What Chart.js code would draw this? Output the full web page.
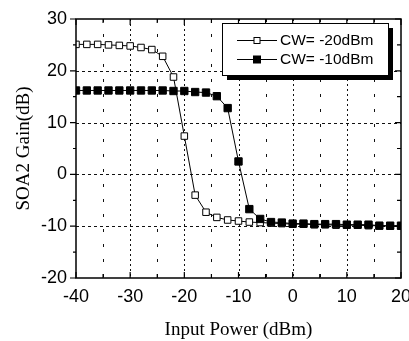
<!DOCTYPE html>
<html>
<head>
<meta charset="utf-8">
<script src="https://cdn.jsdelivr.net/npm/chart.js@4/dist/chart.umd.min.js"></script>
<style>
html,body{margin:0;padding:0;background:#fff;}
#wrap{width:409px;height:341px;position:relative;}
</style>
</head>
<body>
<div id="wrap"><canvas id="c" width="409" height="341"></canvas></div>
<script>
const inputPower = [-40,-38,-36,-34,-32,-30,-28,-26,-24,-22,-20,-18,-16,-14,-12,-10,-8,-6,-4,-2,0,2,4,6,8,10,12,14,16,18,20];
const gainCWm20 = [25.1,25.1,25.1,25.0,24.9,24.8,24.5,24.1,22.8,18.8,7.4,-4.0,-7.3,-8.3,-8.8,-9.0,-9.2,-9.3,-9.4,-9.5,-9.6,-9.6,-9.7,-9.7,-9.8,-9.8,-9.8,-9.9,-9.9,-10.0,-10.0];
const gainCWm10 = [16.2,16.2,16.2,16.2,16.2,16.2,16.2,16.2,16.2,16.1,16.1,15.9,15.8,15.1,12.8,2.5,-6.7,-8.6,-9.2,-9.3,-9.5,-9.5,-9.6,-9.6,-9.6,-9.7,-9.7,-9.7,-9.9,-9.9,-9.9];
const seriesLabels = ['CW= -20dBm','CW= -10dBm'];
const xTitle = 'Input Power (dBm)';
const yTitle = 'SOA2 Gain(dB)';
const xMin = -40, xMax = 20, yMin = -20, yMax = 30;

const toXY = arr => inputPower.map((x,i)=>({x:x,y:arr[i]}));

const frame = {
  id:'frame',
  beforeDatasetsDraw(chart){
    const {ctx, chartArea:a, scales:{x,y}} = chart;
    ctx.save();
    ctx.strokeStyle = '#111';
    ctx.lineWidth = 1;
    x.ticks.forEach(t=>{
      if (t.value<=xMin || t.value>=xMax) return;
      const px = Math.round(x.getPixelForValue(t.value))+0.5;
      ctx.setLineDash(t.value%10===0 ? [2,3] : [3,12]);
      ctx.beginPath(); ctx.moveTo(px,a.top); ctx.lineTo(px,a.bottom); ctx.stroke();
    });
    y.ticks.forEach(t=>{
      if (t.value<=yMin || t.value>=yMax) return;
      if (t.value%10!==0) return;
      const py = Math.round(y.getPixelForValue(t.value))+0.5;
      ctx.setLineDash([3,3]);
      ctx.beginPath(); ctx.moveTo(a.left,py); ctx.lineTo(a.right,py); ctx.stroke();
    });
    ctx.restore();
  },
  afterDatasetsDraw(chart){
    const {ctx, chartArea:a, scales:{x,y}} = chart;
    ctx.save();
    ctx.setLineDash([]);
    ctx.strokeStyle = '#000';
    ctx.lineWidth = 1.5;
    ctx.strokeRect(a.left, a.top, a.right-a.left, a.bottom-a.top);
    ctx.lineWidth = 1.2;
    x.ticks.forEach(t=>{
      const px = x.getPixelForValue(t.value);
      const len = t.value%10===0 ? 6 : 4;
      ctx.beginPath();
      ctx.moveTo(px,a.bottom); ctx.lineTo(px,a.bottom-len);
      ctx.moveTo(px,a.top); ctx.lineTo(px,a.top+len);
      ctx.stroke();
    });
    y.ticks.forEach(t=>{
      const py = y.getPixelForValue(t.value);
      const len = t.value%10===0 ? 6 : 3;
      ctx.beginPath();
      ctx.moveTo(a.left,py); ctx.lineTo(a.left-len,py);
      ctx.moveTo(a.right,py); ctx.lineTo(a.right-(t.value%10===0?6:4),py);
      ctx.stroke();
    });
    // legend box
    const bx=222, by=23, bw=166, bh=52;
    ctx.fillStyle='#000';
    ctx.fillRect(bx+5, by+5, bw, bh);
    ctx.fillStyle='#fff';
    ctx.fillRect(bx, by, bw, bh);
    ctx.lineWidth=1;
    ctx.strokeRect(bx+0.5, by+0.5, bw, bh);
    const rows=[by+17, by+36];
    chart.data.datasets.slice().sort((p,q)=>p.legendIndex-q.legendIndex).forEach((ds,i)=>{
      const ry=rows[i];
      ctx.strokeStyle='#000'; ctx.lineWidth=1;
      ctx.beginPath(); ctx.moveTo(237,ry+0.5); ctx.lineTo(277,ry+0.5); ctx.stroke();
      const s = ds.legendSize;
      ctx.fillStyle = ds.pointBackgroundColor;
      ctx.fillRect(257-s/2, ry-s/2+0.5, s, s);
      ctx.strokeRect(257-s/2, ry-s/2+0.5, s, s);
      ctx.fillStyle='#000';
      ctx.font='15.5px "Liberation Sans", Arial, sans-serif';
      ctx.textBaseline='middle';
      ctx.textAlign='left';
      ctx.fillText(ds.label, 280, ry+1);
    });
    ctx.restore();
  }
};

new Chart(document.getElementById('c'), {
  type:'line',
  data:{
    datasets:[
      {label:seriesLabels[0], data:toXY(gainCWm20), legendIndex:0, legendSize:6, order:1,
       borderColor:'#000', borderWidth:1, pointStyle:'rect', pointRadius:4.6,
       pointBackgroundColor:'#fff', pointBorderColor:'#000', pointBorderWidth:1, tension:0},
      {label:seriesLabels[1], data:toXY(gainCWm10), legendIndex:1, legendSize:7, order:0,
       borderColor:'#000', borderWidth:1, pointStyle:'rect', pointRadius:5.2,
       pointBackgroundColor:'#000', pointBorderColor:'#000', pointBorderWidth:1, tension:0}
    ]
  },
  options:{
    responsive:false,
    animation:false,
    devicePixelRatio:1,
    layout:{padding:{top:19,right:8,left:0,bottom:0}},
    plugins:{legend:{display:false}, tooltip:{enabled:false}},
    scales:{
      x:{type:'linear', min:xMin, max:xMax,
        grid:{display:false, drawTicks:false}, border:{display:false},
        ticks:{stepSize:5, padding:8, color:'#000', maxRotation:0, autoSkip:false,
          font:{family:'"Liberation Sans", Arial, sans-serif', size:18},
          callback:v=> v%10===0 ? String(v) : ''},
        title:{display:true, text:xTitle, color:'#000', padding:{top:1,bottom:0},
          font:{family:'"Liberation Serif", "Times New Roman", serif', size:19}},
        afterFit(s){ s.height = 63; s.paddingLeft=0; s.paddingRight=0; }
      },
      y:{type:'linear', min:yMin, max:yMax,
        grid:{display:false, drawTicks:false}, border:{display:false},
        ticks:{stepSize:5, padding:9, color:'#000', autoSkip:false,
          font:{family:'"Liberation Sans", Arial, sans-serif', size:18},
          callback:v=> v%10===0 ? String(v) : ''},
        title:{display:true, text:yTitle, color:'#000', padding:{top:13,bottom:0},
          font:{family:'"Liberation Serif", "Times New Roman", serif', size:19}},
        afterFit(s){ s.width = 76; s.paddingTop=0; s.paddingBottom=0; }
      }
    }
  },
  plugins:[frame]
});
</script>
</body>
</html>
